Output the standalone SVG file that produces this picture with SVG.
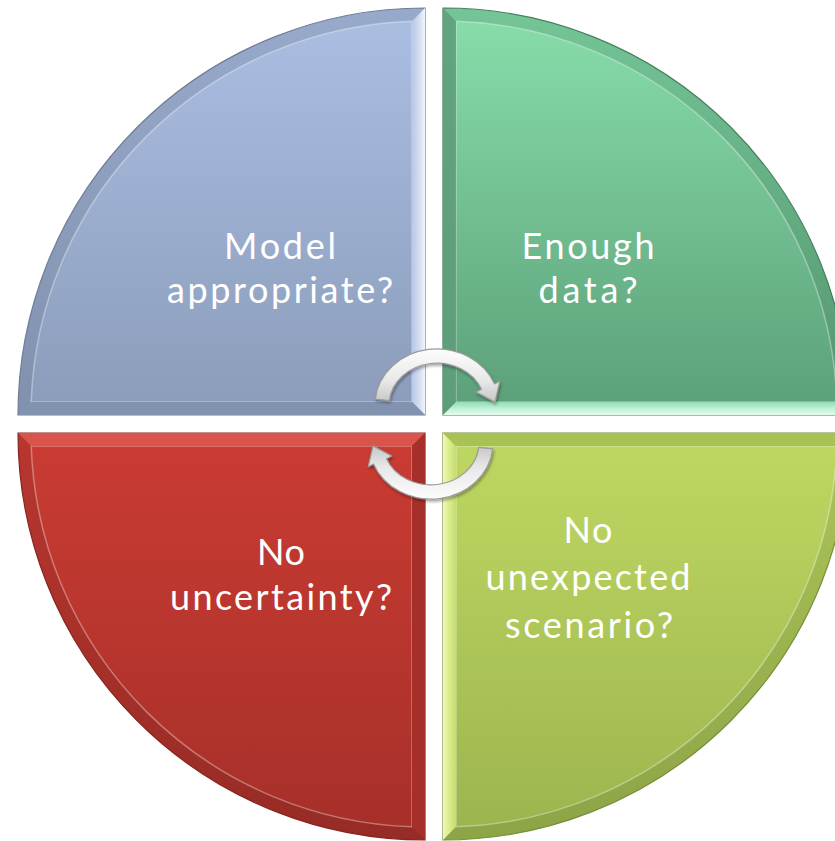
<svg xmlns="http://www.w3.org/2000/svg" width="835" height="841" viewBox="0 0 835 841">
<defs>
<linearGradient id="gTL" x1="0" y1="8" x2="0" y2="415" gradientUnits="userSpaceOnUse"><stop offset="0" stop-color="#abbfe3"/><stop offset="1" stop-color="#8b9cba"/></linearGradient>
<linearGradient id="bTL" x1="0" y1="8" x2="0" y2="415" gradientUnits="userSpaceOnUse"><stop offset="0" stop-color="#98aacb"/><stop offset="1" stop-color="#8090ad"/></linearGradient>
<linearGradient id="lTL" x1="411" y1="0" x2="425" y2="0" gradientUnits="userSpaceOnUse"><stop offset="0" stop-color="#b4c4e4"/><stop offset="0.6" stop-color="#d4def2"/><stop offset="1" stop-color="#f2f6fc"/></linearGradient>
<linearGradient id="gTR" x1="0" y1="8" x2="0" y2="415" gradientUnits="userSpaceOnUse"><stop offset="0" stop-color="#88deab"/><stop offset="1" stop-color="#5b9f78"/></linearGradient>
<linearGradient id="bTR" x1="0" y1="8" x2="0" y2="415" gradientUnits="userSpaceOnUse"><stop offset="0" stop-color="#74c597"/><stop offset="1" stop-color="#54946e"/></linearGradient>
<linearGradient id="lTR" x1="0" y1="401" x2="0" y2="415" gradientUnits="userSpaceOnUse"><stop offset="0" stop-color="#8fd9b0"/><stop offset="0.6" stop-color="#c3f3d9"/><stop offset="1" stop-color="#e6fbef"/></linearGradient>
<linearGradient id="gBL" x1="0" y1="433" x2="0" y2="840" gradientUnits="userSpaceOnUse"><stop offset="0" stop-color="#ca3c33"/><stop offset="1" stop-color="#a62f29"/></linearGradient>
<linearGradient id="bBL" x1="0" y1="433" x2="0" y2="840" gradientUnits="userSpaceOnUse"><stop offset="0" stop-color="#b8372f"/><stop offset="1" stop-color="#972b25"/></linearGradient>
<linearGradient id="gBR" x1="0" y1="433" x2="0" y2="840" gradientUnits="userSpaceOnUse"><stop offset="0" stop-color="#bfd862"/><stop offset="1" stop-color="#9cb44e"/></linearGradient>
<linearGradient id="bBR" x1="0" y1="433" x2="0" y2="840" gradientUnits="userSpaceOnUse"><stop offset="0" stop-color="#abc558"/><stop offset="1" stop-color="#8da447"/></linearGradient>
<linearGradient id="lBR" x1="443" y1="0" x2="457" y2="0" gradientUnits="userSpaceOnUse"><stop offset="0" stop-color="#eef8b8"/><stop offset="0.4" stop-color="#dcee90"/><stop offset="1" stop-color="#c2da68"/></linearGradient>
<linearGradient id="gArrow" x1="0" y1="0" x2="0" y2="1"><stop offset="0" stop-color="#fdfdfd"/><stop offset="0.6" stop-color="#e8e8e8"/><stop offset="1" stop-color="#c6c6c6"/></linearGradient>
<filter id="sh" x="-20%" y="-20%" width="140%" height="140%"><feGaussianBlur in="SourceAlpha" stdDeviation="1.5"/><feOffset dx="1" dy="2"/><feComponentTransfer><feFuncA type="linear" slope="0.35"/></feComponentTransfer><feMerge><feMergeNode/><feMergeNode in="SourceGraphic"/></feMerge></filter>
</defs>
<style>
.outer{stroke-width:1.2}
.inner{stroke:#ffffff;stroke-opacity:0.35;stroke-width:1.5}
.lbl{font-family:Lato,"Open Sans",sans-serif;font-size:36px;fill:#ffffff;text-anchor:middle}
.arrow{fill:url(#gArrow);stroke:#9c9c9c;stroke-width:1.2;stroke-linejoin:round}
</style>
<rect width="835" height="841" fill="#ffffff"/>

<g id="q-model">
<path class="outer" d="M 425 415 L 18 415 A 407 407 0 0 1 425 8 Z" fill="url(#bTL)" stroke="#6f7d97"/>
<path class="inner" d="M 412 402 L 31.2 402 A 394 394 0 0 1 412 21.2 Z" fill="url(#gTL)"/>
<polygon fill="url(#lTL)" points="425,8 425,415 412,402 412,21.2"/>
<polygon fill="#8293b0" points="18,415 425,415 412,402 31.2,402"/>
<text class="lbl" x="280" y="259" textLength="112" lengthAdjust="spacing">Model</text>
<text class="lbl" x="280" y="303" textLength="226" lengthAdjust="spacing">appropriate?</text>
</g>

<g id="q-data">
<path class="outer" d="M 443 415 L 443 8 A 407 407 0 0 1 850 415 Z" fill="url(#bTR)" stroke="#46805e"/>
<path class="inner" d="M 456 402 L 456 21.2 A 394 394 0 0 1 836.8 402 Z" fill="url(#gTR)"/>
<polygon fill="#5f9f7b" fill-opacity="0.85" points="443,8 443,415 456,402 456,21.2"/>
<polygon fill="url(#lTR)" points="443,415 850,415 836.8,402 456,402"/>
<text class="lbl" x="588" y="259" textLength="133" lengthAdjust="spacing">Enough</text>
<text class="lbl" x="588" y="303" textLength="99" lengthAdjust="spacing">data?</text>
</g>

<g id="q-uncertainty">
<path class="outer" d="M 425 433 L 425 840 A 407 407 0 0 1 18 433 Z" fill="url(#bBL)" stroke="#862520"/>
<path class="inner" d="M 412 446 L 412 826.8 A 394 394 0 0 1 31.2 446 Z" fill="url(#gBL)"/>
<polygon fill="#d9544b" points="18,433 425,433 412,446 31.2,446"/>
<polygon fill="#a72f29" points="425,433 425,840 412,826.8 412,446"/>
<text class="lbl" x="281" y="565" textLength="48" lengthAdjust="spacing">No</text>
<text class="lbl" x="281" y="610" textLength="222" lengthAdjust="spacing">uncertainty?</text>
</g>

<g id="q-scenario">
<path class="outer" d="M 443 433 L 850 433 A 407 407 0 0 1 443 840 Z" fill="url(#bBR)" stroke="#7a8e3a"/>
<path class="inner" d="M 456 446 L 836.8 446 A 394 394 0 0 1 456 826.8 Z" fill="url(#gBR)"/>
<polygon fill="url(#lBR)" points="443,433 443,840 456,826.8 456,446"/>
<polygon fill="#a9c254" points="443,433 850,433 836.8,446 456,446"/>
<text class="lbl" x="588" y="543" textLength="49" lengthAdjust="spacing">No</text>
<text class="lbl" x="588" y="590" textLength="205" lengthAdjust="spacing">unexpected</text>
<text class="lbl" x="589" y="638" textLength="168" lengthAdjust="spacing">scenario?</text>
</g>

<g id="connectors" filter="url(#sh)">
<path id="arrow-top" class="arrow" d="M 375.3 399.1 A 62 56 0 0 1 494.5 384 L 499.8 381.2 L 495 402.1 L 476.2 392 L 481.5 389.3 A 48 42 0 0 0 389.3 400.6 Z"/>
<path id="arrow-bottom" class="arrow" transform="rotate(180 434 424)" d="M 375.3 399.1 A 62 56 0 0 1 494.5 384 L 499.8 381.2 L 495 402.1 L 476.2 392 L 481.5 389.3 A 48 42 0 0 0 389.3 400.6 Z"/>
</g>
</svg>
